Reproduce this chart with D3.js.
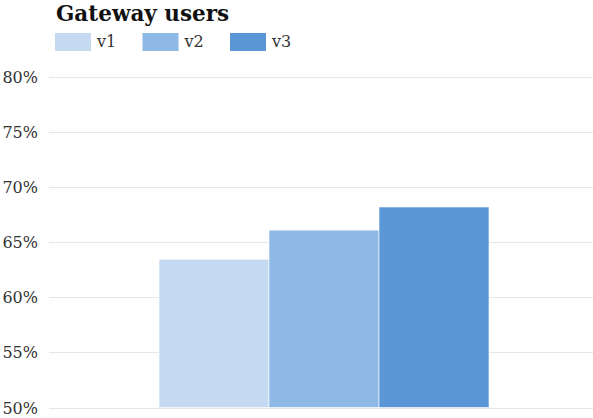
<!DOCTYPE html>
<html>
<head>
<meta charset="utf-8">
<script src="https://cdn.jsdelivr.net/npm/d3@7"></script>
<style>
  body { margin: 0; background: #fff; }
  text { font-family: Georgia, "DejaVu Serif", serif; fill: #333; }
</style>
</head>
<body>
<div id="chart"></div>
<script>
var series = ["v1", "v2", "v3"];
var values = [63.45, 66.1, 68.2];
var colors = ["#c5daf0", "#8eb8e5", "#5b96d6"];
var yTicks = [50, 55, 60, 65, 70, 75, 80];

var width = 593, height = 418;
var margin = {top: 77, right: 0, bottom: 10, left: 49};

var svg = d3.select("#chart").append("svg")
    .attr("width", width)
    .attr("height", height);

var y = d3.scaleLinear()
    .domain([50, 80])
    .range([height - margin.bottom - 0.5, margin.top]);

var x = d3.scaleBand()
    .domain(series)
    .range([margin.left, width + 6])
    .paddingInner(0)
    .paddingOuter(1.0);

// gridlines
svg.selectAll("line.grid")
    .data(yTicks)
    .enter()
    .append("line")
    .attr("class", "grid")
    .attr("x1", margin.left)
    .attr("x2", width)
    .attr("y1", function(d) { return Math.round(y(d)) + 0.5; })
    .attr("y2", function(d) { return Math.round(y(d)) + 0.5; })
    .attr("stroke", "#e6e6e6")
    .attr("stroke-width", 1);

// y labels
svg.selectAll("text.ylab")
    .data(yTicks)
    .enter()
    .append("text")
    .attr("class", "ylab")
    .attr("x", 38)
    .attr("y", function(d) { return y(d) + 6; })
    .attr("text-anchor", "end")
    .style("font-size", "16px")
    .text(function(d) { return d + "%"; });

// bars
svg.selectAll("rect.bar")
    .data(values)
    .enter()
    .append("rect")
    .attr("class", "bar")
    .attr("x", function(d, i) { return x(series[i]); })
    .attr("width", x.bandwidth())
    .attr("y", function(d) { return y(d); })
    .attr("height", function(d) { return y(50) - y(d); })
    .attr("fill", function(d, i) { return colors[i]; })
    .attr("stroke", "#fff")
    .attr("stroke-opacity", 0.6)
    .attr("stroke-width", 1);

// title
svg.append("text")
    .attr("x", 56)
    .attr("y", 21)
    .style("font-size", "21.5px")
    .style("font-weight", "bold")
    .style("fill", "#111")
    .text("Gateway users");

// legend
var legend = svg.selectAll("g.legend")
    .data(series)
    .enter()
    .append("g")
    .attr("class", "legend")
    .attr("transform", function(d, i) { return "translate(" + (55 + i * 87.5) + ",33)"; });

legend.append("rect")
    .attr("width", 36)
    .attr("height", 18)
    .attr("fill", function(d, i) { return colors[i]; });

legend.append("text")
    .attr("x", 42)
    .attr("y", 14)
    .style("font-size", "16px")
    .text(function(d) { return d; });
</script>
</body>
</html>
